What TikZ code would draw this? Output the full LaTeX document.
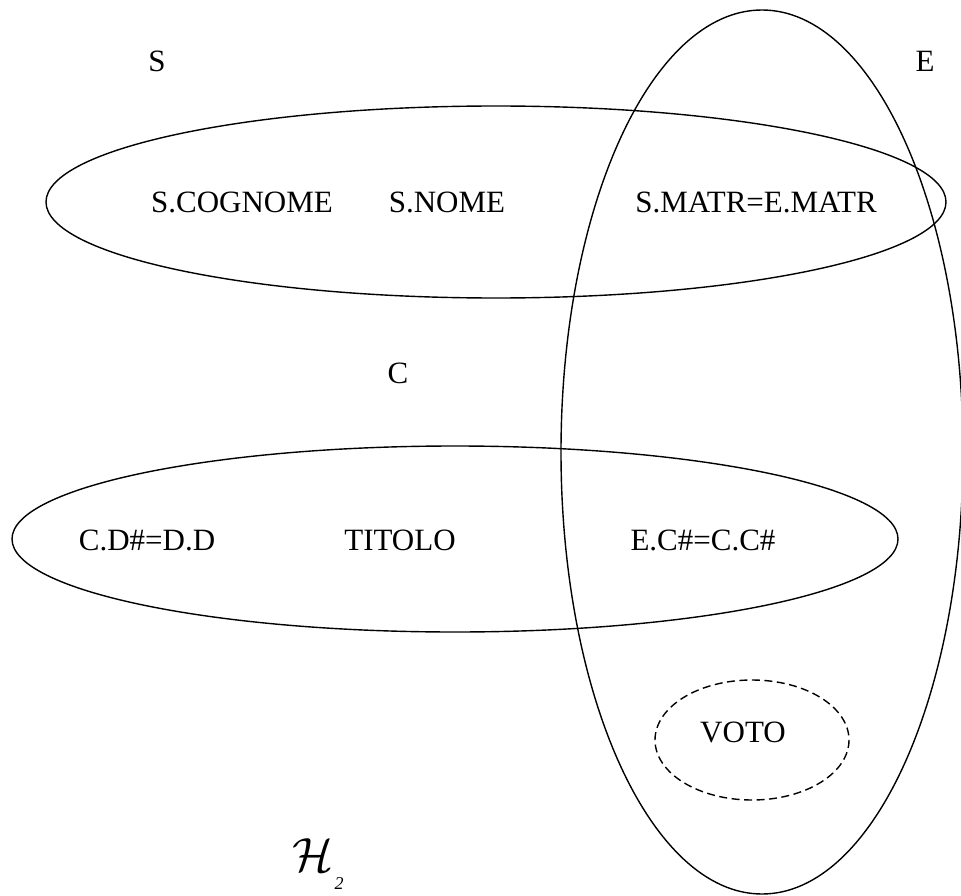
\documentclass[tikz,border=0pt]{standalone}
\usepackage{amsmath}
\usepackage{amssymb}
\usepackage{fontspec}
\setmainfont{Liberation Serif}
\tikzset{
    attr/.style = {anchor = base, inner sep = 0pt, font = \fontsize{31}{36}\selectfont},
    hedge/.style = {line width = 1.4pt}
}

\begin{document}
\begin{tikzpicture}[x = 1pt, y = -1pt]
        \useasboundingbox (0, 0) rectangle (961, 896);
        \begin{scope}
            \clip (0, 0) rectangle (961, 896);
            \draw[hedge] (496, 202) ellipse [x radius = 450, y radius = 96];
            \draw[hedge] (455, 539) ellipse [x radius = 443, y radius = 93];
            \draw[hedge] (762, 452) ellipse [x radius = 201, y radius = 442];
            \draw[hedge, dash pattern = on 8pt off 4.5pt] (752, 740) ellipse [x radius = 97, y radius = 60];
        \end{scope}
        \node[attr] (s) at (157, 72) {S};
        \node[attr] (e) at (925, 72) {E};
        \node[attr] (c) at (398, 383) {C};
        \node[attr] (scognome) at (242, 213) {S.COGNOME};
        \node[attr] (snome) at (447, 213) {S.NOME};
        \node[attr] (smatr) at (756, 213) {S.MATR=E.MATR};
        \node[attr] (cd) at (147, 550) {C.D\#=D.D};
        \node[attr] (titolo) at (400, 550) {TITOLO};
        \node[attr] (ec) at (703, 550) {E.C\#=C.C\#};
        \node[attr] (voto) at (743, 742) {VOTO};
        \node[inner sep = 0pt, scale = 4.8] (h) at (313, 855) {$\mathcal{H}$};
        \node[inner sep = 0pt, anchor = base, font = \fontsize{18}{18}\selectfont\itshape] (hidx) at (339, 889) {2};
    \end{tikzpicture}
\end{document}
